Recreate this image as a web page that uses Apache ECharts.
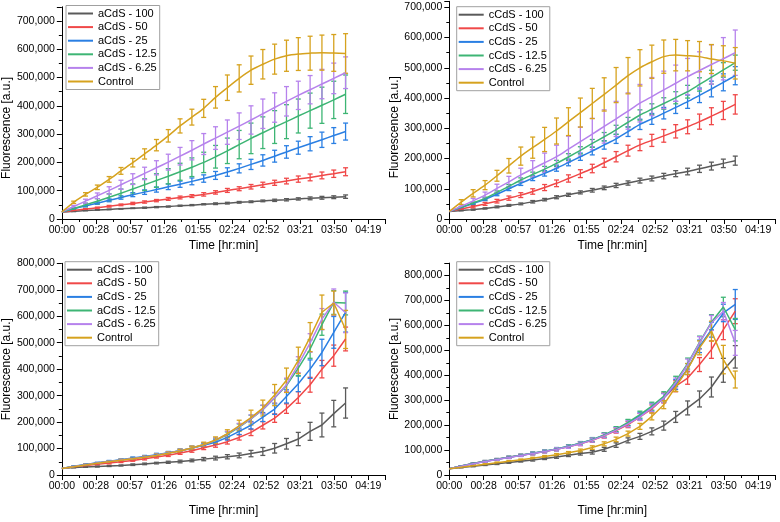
<!DOCTYPE html>
<html>
<head>
<meta charset="utf-8">
<script src="https://cdn.jsdelivr.net/npm/echarts@6/dist/echarts.min.js"></script>
<style>html,body{margin:0;padding:0;background:#fff}#c{width:780px;height:522px}</style>
</head>
<body>
<div id="c"></div>
<script>
// time points (minutes)
const minutes = [0,10,20,30,40,50,60,70,80,90,100,110,120,130,140,150,160,170,180,190,200,210,220,230,240];
const xTickLabels = ['00:00','00:28','00:57','01:26','01:55','02:24','02:52','03:21','03:50','04:19'];
const yTickLabels = ['0','100,000','200,000','300,000','400,000','500,000','600,000','700,000','800,000'];
const aNames = ['aCdS - 100','aCdS - 50','aCdS - 25','aCdS - 12.5','aCdS - 6.25','Control'];
const cNames = ['cCdS - 100','cCdS - 50','cCdS - 25','cCdS - 12.5','cCdS - 6.25','Control'];

// values in thousands [a.u.]
// top-left (aCdS)
const tlA100 = [25,27,30,32,34,36,38,40,42,44,47,49,52,54,56,59,61,64,66,68,71,73,75,77,79];
const tlA50  = [25,30,35,40,45,50,55,60,65,71,76,81,87,94,101,107,114,121,128,134,141,147,154,160,167];
const tlA25  = [25,36,46,56,66,76,86,95,104,114,123,133,143,154,166,179,193,207,222,237,252,266,280,295,309];
const tlA12  = [25,37,50,63,77,91,106,121,136,151,167,183,200,220,241,263,285,305,325,344,364,383,402,421,441];
const tlA6   = [25,44,63,82,101,121,141,161,181,201,222,243,265,286,307,328,350,372,394,416,437,457,477,497,517];
const tlCtrl = [25,59,87,112,140,170,199,230,261,294,329,360,391,430,464,497,526,547,565,577,583,586,588,587,585];
const tlA100e = [0,1,1,1,1,1,1,2,2,2,2,2,2,3,3,3,3,3,4,4,4,5,5,5,6];
const tlA50e  = [0,1,2,2,3,3,4,4,4,5,5,5,6,6,7,7,8,9,9,10,11,12,12,13,14];
const tlA25e  = [0,2,3,4,5,6,7,8,9,10,11,12,13,14,15,16,18,20,21,22,23,25,27,28,30];
const tlA12e  = [0,4,6,9,12,15,18,21,24,27,30,33,36,40,45,50,54,56,58,60,60,62,64,66,68];
const tlA6e   = [0,4,7,10,13,16,19,22,25,28,31,34,37,40,43,47,50,52,52,52,50,50,52,54,56];
const tlCtrle = [0,4,6,8,10,12,15,18,20,22,25,28,32,38,45,48,50,52,53,55,58,60,62,65,70];

// top-right (cCdS)
const trC100 = [25,28,31,35,40,45,50,57,64,72,80,88,95,103,111,119,127,134,142,150,157,166,175,184,193];
const trC50  = [25,33,41,50,59,69,79,91,104,118,134,150,167,186,206,226,245,260,275,290,305,322,340,359,379];
const trC25  = [25,38,51,65,82,100,118,135,151,168,187,206,225,245,265,289,313,331,350,369,388,409,430,452,474];
const trC12  = [25,39,53,68,88,108,129,147,165,184,205,227,250,272,295,320,344,363,382,401,421,445,469,493,517];
const trC6   = [25,42,60,79,101,123,146,166,186,206,231,256,281,306,331,357,383,405,427,449,471,491,511,530,550];
const trCtrl = [25,56,85,112,143,176,208,236,263,291,322,352,382,412,443,474,500,520,537,542,540,537,529,523,515];
const trC100e = [0,1,2,2,3,3,3,4,4,5,5,5,6,6,7,7,8,8,9,10,11,12,13,14,15];
const trC50e  = [0,3,4,5,6,7,8,9,10,11,12,13,14,15,17,18,19,20,21,22,23,25,28,30,32];
const trC25e  = [0,2,3,4,5,6,7,8,9,10,11,12,13,14,15,16,17,18,19,20,22,24,26,28,30];
const trC12e  = [0,2,3,4,5,6,7,8,9,10,11,12,13,14,15,16,17,18,19,20,21,22,23,24,25];
const trC6e   = [0,5,8,10,14,18,22,27,32,38,43,48,52,55,58,60,62,63,62,60,60,62,65,70,75];
const trCtrle = [0,8,12,15,18,24,30,35,40,43,46,48,50,55,58,60,60,55,55,52,50,50,48,50,52];

// bottom-left (aCdS)
const blA100 = [25,28,30,32,34,36,39,42,45,48,51,55,60,64,69,74,81,89,101,118,136,165,189,232,272];
const blA50  = [25,31,36,41,45,50,55,61,68,75,83,92,103,113,126,142,161,188,215,251,293,341,400,451,514];
const blA25  = [25,33,40,46,52,58,64,70,77,84,92,101,112,124,142,165,188,219,249,297,345,400,463,539,615];
const blA12  = [25,32,39,45,51,57,62,68,75,83,92,102,114,130,153,181,212,247,291,338,404,476,568,652,650];
const blA6   = [25,32,39,45,51,57,62,68,75,83,92,102,114,131,155,183,213,248,292,341,417,499,589,653,613];
const blCtrl = [25,31,38,44,50,56,61,67,74,82,91,102,115,132,156,186,217,253,302,358,433,521,615,650,550];
const blA100e = [0,1,1,2,2,2,3,3,3,4,5,5,6,7,8,9,12,15,18,20,25,34,45,50,57];
const blA50e  = [0,1,2,2,3,3,3,4,4,5,5,6,7,8,9,10,12,14,16,18,22,28,33,40,45];
const blA25e  = [0,1,2,2,3,3,4,4,5,5,6,7,8,9,10,12,14,17,20,25,30,35,50,60,75];
const blA12e  = [0,1,2,2,3,3,4,4,5,5,6,7,8,9,10,12,14,16,20,25,30,35,40,45,45];
const blA6e   = [0,1,2,2,3,3,4,4,5,5,6,7,8,9,10,12,14,16,20,25,30,35,40,50,75];
const blCtrle = [0,1,2,2,3,3,4,4,5,5,6,7,9,12,15,21,28,30,40,46,50,55,65,45,72];

// bottom-right (cCdS)
const brC100 = [25,30,35,40,45,50,55,60,66,72,79,86,91,103,120,139,155,175,198,233,269,305,353,420,474];
const brC50  = [25,36,46,55,63,71,79,86,94,103,113,125,139,157,178,202,233,265,309,356,389,443,503,583,657];
const brC25  = [25,36,46,55,63,71,79,87,95,104,115,127,142,160,182,209,238,272,309,363,425,516,583,650,684];
const brC12  = [25,36,46,55,63,71,79,87,95,104,115,127,142,161,184,211,242,276,316,376,447,532,613,674,583];
const brC6   = [25,35,45,54,62,70,78,86,94,103,113,125,140,158,180,205,233,269,309,369,443,530,610,657,530];
const brCtrl = [25,31,37,43,49,55,61,67,74,81,89,98,110,125,143,166,195,235,282,353,425,510,577,463,383];
const brC100e = [0,1,2,2,3,3,3,4,4,5,5,6,7,8,9,10,12,14,18,22,28,32,40,48,45];
const brC50e  = [0,1,2,3,3,4,4,5,5,6,6,7,8,9,10,12,14,16,20,22,25,28,35,40,50];
const brC25e  = [0,1,2,3,3,4,4,5,5,6,6,7,8,9,10,12,14,16,18,20,22,25,30,35,60];
const brC12e  = [0,1,2,3,3,4,4,5,5,6,6,7,8,9,10,12,14,16,18,20,22,25,30,39,45];
const brC6e   = [0,1,2,3,3,4,4,5,5,6,6,7,8,9,10,12,14,16,18,20,22,25,30,35,50];
const brCtrle = [0,1,2,2,3,3,3,4,4,5,5,6,7,8,9,10,12,14,16,18,22,28,40,57,34];

const colors = ['#5a5a5a','#f04848','#2a7fe3','#3db574','#b682ec','#d6a21e'];
const FONT = '"Liberation Sans", Arial, sans-serif';

const panels = [
  {names:aNames, lines:[tlA100,tlA50,tlA25,tlA12,tlA6,tlCtrl], errs:[tlA100e,tlA50e,tlA25e,tlA12e,tlA6e,tlCtrle], smooth:true,
   grid:{left:59.3, top:6.8, width:326, height:212.2}, ymax:750000, legend:{left:66, top:5.5}, xGap:21, yPad:[0,30,0,0]},
  {names:cNames, lines:[trC100,trC50,trC25,trC12,trC6,trCtrl], errs:[trC100e,trC50e,trC25e,trC12e,trC6e,trCtrle], smooth:true,
   grid:{left:449.3, top:1.3, width:326, height:217.7}, ymax:720000, legend:{left:456.7, top:6.7}, xGap:21, yPad:[0,34,0,0]},
  {names:aNames, lines:[blA100,blA50,blA25,blA12,blA6,blCtrl], errs:[blA100e,blA50e,blA25e,blA12e,blA6e,blCtrle], smooth:false,
   grid:{left:59.3, top:263.3, width:326, height:211.7}, ymax:800000, legend:{left:65, top:261.7}, xGap:30, yPad:[0,0,0,0]},
  {names:cNames, lines:[brC100,brC50,brC25,brC12,brC6,brCtrl], errs:[brC100e,brC50e,brC25e,brC12e,brC6e,brCtrle], smooth:false,
   grid:{left:449.3, top:263.1, width:326, height:211.9}, ymax:850000, legend:{left:456.7, top:261.7}, xGap:30, yPad:[0,0,0,0]}
];

function errRender(color){
  return function(params, api){
    const x = api.value(0), y = api.value(1), e = api.value(2);
    if (!e) return null;
    const t = api.coord([x, y + e]), b = api.coord([x, y - e]);
    const w = 2.5, st = {stroke: color, lineWidth: 1.3};
    return {type:'group', children:[
      {type:'line', shape:{x1:t[0], y1:t[1], x2:b[0], y2:b[1]}, style:st},
      {type:'line', shape:{x1:t[0]-w, y1:t[1], x2:t[0]+w, y2:t[1]}, style:st},
      {type:'line', shape:{x1:b[0]-w, y1:b[1], x2:b[0]+w, y2:b[1]}, style:st}
    ]};
  };
}

const grids = [], xAxes = [], yAxes = [], legends = [], series = [];
panels.forEach((p, gi) => {
  grids.push(Object.assign({containLabel:false}, p.grid));
  xAxes.push({
    type:'value', gridIndex:gi, min:0, max:273.6, interval:28.8,
    axisLine:{lineStyle:{color:'#000', width:1}},
    axisTick:{length:5, lineStyle:{color:'#000'}},
    minorTick:{show:true, splitNumber:2, length:3, lineStyle:{color:'#000'}},
    splitLine:{show:false}, minorSplitLine:{show:false},
    axisLabel:{fontSize:10.5, color:'#000', margin:6, showMaxLabel:false, fontFamily:FONT,
      formatter: v => { const i = Math.round(v/28.8); return Math.abs(v - i*28.8) < 1e-6 ? (xTickLabels[i] || '') : ''; }},
    name:'Time [hr:min]', nameLocation:'middle', nameGap:p.xGap,
    nameTextStyle:{fontSize:12, color:'#000', fontFamily:FONT}
  });
  yAxes.push({
    type:'value', gridIndex:gi, min:0, max:p.ymax, interval:100000,
    axisLine:{show:true, lineStyle:{color:'#000', width:1}},
    axisTick:{show:true, length:5, lineStyle:{color:'#000'}},
    minorTick:{show:true, splitNumber:2, length:3, lineStyle:{color:'#000'}},
    splitLine:{show:false}, minorSplitLine:{show:false},
    axisLabel:{fontSize:10.5, color:'#000', margin:7, fontFamily:FONT,
      formatter: v => (v % 100000 === 0 ? (yTickLabels[v/100000] || '') : '')},
    name:'Fluorescence [a.u.]', nameLocation:'middle', nameGap:44, nameRotate:90,
    nameTextStyle:{fontSize:12, color:'#000', fontFamily:FONT, padding:p.yPad}
  });
  legends.push({
    left:p.legend.left, top:p.legend.top, orient:'vertical', data:p.names.slice(),
    icon:'rect', itemWidth:25, itemHeight:2, itemGap:1.6, itemTextGap:3,
    textStyle:{fontSize:11, color:'#000', fontFamily:FONT, lineHeight:12},
    borderColor:'#a0a0a0', borderWidth:1, padding:[2,3,2,2], backgroundColor:'#fff',
    selectedMode:false, z:10
  });
  p.lines.forEach((arr, i) => {
    series.push({
      type:'line', name:p.names[i], xAxisIndex:gi, yAxisIndex:gi,
      data: minutes.map((t, j) => [t, arr[j] * 1000]),
      showSymbol:false, symbol:'none', smooth: p.smooth ? 0.25 : false,
      lineStyle:{width:1.5, color:colors[i]}, itemStyle:{color:colors[i]},
      z:2, animation:false
    });
    series.push({
      type:'custom', name:'err ' + p.names[i], xAxisIndex:gi, yAxisIndex:gi,
      data: minutes.map((t, j) => [t, arr[j] * 1000, p.errs[i][j] * 1000]),
      renderItem: errRender(colors[i]), encode:{x:0, y:1}, silent:true, z:2, animation:false
    });
  });
});

const chart = echarts.init(document.getElementById('c'), null, {renderer:'canvas'});
chart.setOption({
  animation:false,
  backgroundColor:'#fff',
  textStyle:{fontFamily:FONT},
  grid:grids, xAxis:xAxes, yAxis:yAxes, legend:legends, series:series
});
</script>
</body>
</html>
